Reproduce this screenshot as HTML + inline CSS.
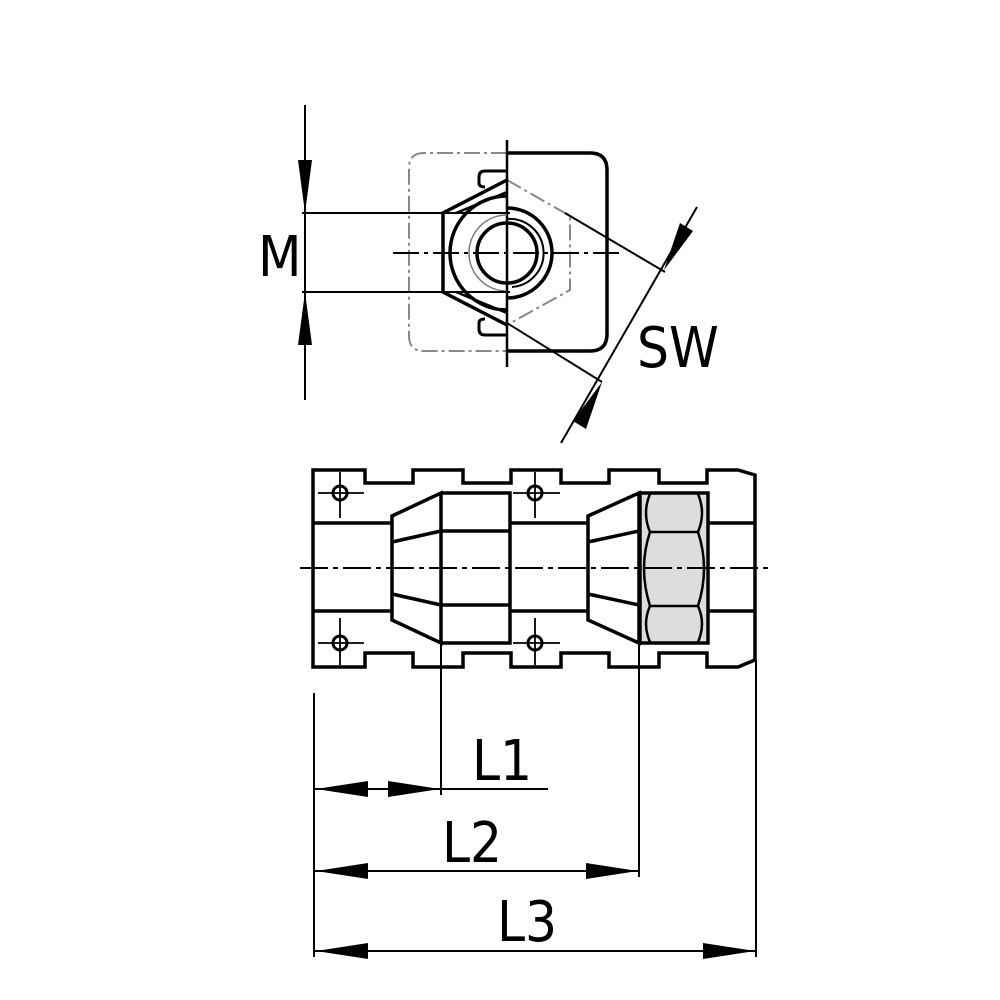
<!DOCTYPE html>
<html><head><meta charset="utf-8"><style>
html,body{margin:0;padding:0;background:#fff;}
svg{display:block}
text{font-family:"DejaVu Sans Condensed","Liberation Sans Narrow","Liberation Sans",sans-serif;fill:#000}
</style></head><body>
<svg width="1000" height="1000" viewBox="0 0 1000 1000" xmlns="http://www.w3.org/2000/svg">
<rect width="1000" height="1000" fill="#fff"/>
<!-- TOP VIEW -->
<g fill="none" stroke="#000" stroke-linecap="butt">
 <!-- dashed left rect -->
 <path d="M507 153 H424 Q409 153 409 168 V336 Q409 351 424 351 H507" stroke="#888" stroke-width="2" stroke-dasharray="16 4 3 4"/>
 <!-- dashed hex -->
 <path d="M507 180 L570 216 V290 L507 325" stroke="#888" stroke-width="2" stroke-dasharray="16 4 3 4"/>
 <!-- right rect -->
 <path d="M507 153 H590 Q607 153 607 170 V334 Q607 351 590 351 H507" stroke-width="3.5"/>
 <!-- center lines -->
 <line x1="507" y1="140" x2="507" y2="367" stroke-width="2.5"/>
 <line x1="393" y1="253" x2="620" y2="253" stroke-width="2" stroke-dasharray="26 5 4 5"/>
 <!-- wedge -->
 <path d="M507 180 L443 213 V292 L507 325" stroke-width="3.5"/>
 <path d="M507 192 L456 213" stroke-width="2.5"/>
 <path d="M507 313 L456 292" stroke-width="2.5"/>
 <!-- tabs -->
 <path d="M507 171 H485 Q479 171 479 177 V183 Q479 187 485 187" stroke-width="3"/>
 <path d="M507 335 H485 Q479 335 479 329 V323 Q479 319 485 319" stroke-width="3"/>
 <!-- circles -->
 <path d="M507 196 A57 57 0 0 0 507 310" stroke-width="3.5"/>
 <path d="M507 208 A45 45 0 0 1 507 298" stroke-width="3.5"/>
 <path d="M507 215 A38 38 0 0 0 507 291" stroke-width="1.5" stroke="#777"/>
 <path d="M507 219 A34 34 0 1 1 512 287" stroke-width="2"/>
 <circle cx="507" cy="253" r="30" stroke-width="3.5"/>
 <!-- M dimension -->
 <line x1="302" y1="213" x2="510" y2="213" stroke-width="2"/>
 <line x1="302" y1="292" x2="510" y2="292" stroke-width="2"/>
 <line x1="305" y1="105" x2="305" y2="400" stroke-width="2"/>
 <!-- SW -->
 <line x1="565" y1="213" x2="665" y2="272" stroke-width="2"/>
 <line x1="507" y1="323" x2="602" y2="382" stroke-width="2"/>
 <line x1="697" y1="207" x2="561" y2="443" stroke-width="2"/>
</g>
<g fill="#000">
 <polygon points="305,213 298,160 312,160"/>
 <polygon points="305,292 298,345 312,345"/>
 <polygon points="664,270 680,223 693,231"/>
 <polygon points="602,382 586,429 573,421"/>
</g>
<text x="258" y="276" font-size="56">M</text>
<text x="637" y="367" font-size="56">SW</text>
<!-- SIDE VIEW -->
<polygon points="640,493 708,493 708,643 640,643" fill="#ddd"/>
<g fill="none" stroke="#000" stroke-width="3.5" stroke-linejoin="miter">
 <path d="M313 470 H365 V483 H413 V470 H463 V483 H511 V470 H561 V483 H609 V470 H659 V483 H707 V470 H738 L755 475 V660 L738 667 H707 V653 H659 V667 H609 V653 H561 V667 H511 V653 H463 V667 H413 V653 H365 V667 H313 Z"/>
 <line x1="313" y1="523" x2="392" y2="523"/>
 <line x1="313" y1="611" x2="392" y2="611"/>
 <line x1="510" y1="523" x2="588" y2="523"/>
 <line x1="510" y1="611" x2="588" y2="611"/>
 <line x1="708" y1="523" x2="755" y2="523"/>
 <line x1="708" y1="611" x2="755" y2="611"/>
 <!-- cone1 -->
 <path d="M392 516 L441 493 V643 L392 620 Z"/>
 <path d="M392 542 L441 531"/><path d="M392 594 L441 605"/>
 <path d="M441 493 H510 V643 H441"/>
 <line x1="441" y1="531" x2="510" y2="531"/>
 <line x1="441" y1="605" x2="510" y2="605"/>
 <!-- cone2 -->
 <path d="M588 516 L639 493 V643 L588 620 Z"/>
 <path d="M588 542 L639 531"/><path d="M588 594 L639 605"/>
 <rect x="640" y="493" width="68" height="150"/>
 <g stroke-width="2.5">
  <path d="M650 494 Q642 513 650 532 H698 Q706 513 698 494"/>
  <path d="M650 532 Q638 568 650 606 H698 Q710 568 698 532"/>
  <path d="M650 642 Q642 624 650 606 M698 606 Q706 624 698 642"/>
 </g>
 <!-- holes -->
 <g stroke-width="3">
  <circle cx="340" cy="493" r="7"/><circle cx="535" cy="493" r="7"/>
  <circle cx="340" cy="643" r="7"/><circle cx="535" cy="643" r="7"/>
 </g>
 <g stroke-width="1.8">
  <path d="M340 472 V518 M318 493 H364"/><path d="M535 472 V518 M513 493 H560"/>
  <path d="M340 618 V665 M318 643 H364"/><path d="M535 618 V665 M513 643 H560"/>
 </g>
</g>
<line x1="300" y1="568" x2="770" y2="568" stroke="#000" stroke-width="2" stroke-dasharray="28 5 5 5"/>
<!-- bottom dimensions -->
<g stroke="#000" stroke-width="2" fill="none">
 <line x1="314" y1="693" x2="314" y2="957"/>
 <line x1="441" y1="643" x2="441" y2="795"/>
 <line x1="639" y1="643" x2="639" y2="877"/>
 <line x1="756" y1="660" x2="756" y2="957"/>
 <line x1="314" y1="789" x2="548" y2="789"/>
 <line x1="314" y1="871" x2="639" y2="871"/>
 <line x1="314" y1="951" x2="756" y2="951"/>
</g>
<g fill="#000">
 <polygon points="316,789 368,781 368,797"/>
 <polygon points="440,789 388,781 388,797"/>
 <polygon points="316,871 368,863 368,879"/>
 <polygon points="638,871 586,863 586,879"/>
 <polygon points="316,951 368,943 368,959"/>
 <polygon points="755,951 703,943 703,959"/>
</g>
<text x="472" y="780" font-size="56">L1</text>
<text x="442" y="862" font-size="56">L2</text>
<text x="497" y="941" font-size="56">L3</text>
</svg>
</body></html>
